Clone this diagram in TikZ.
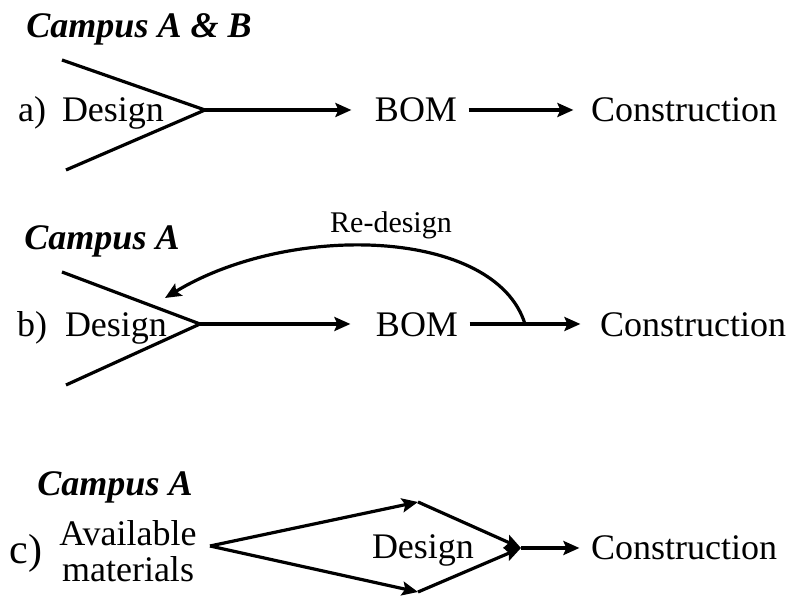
\documentclass[tikz,border=0pt]{standalone}
\usepackage{fontspec}
\setmainfont{Liberation Serif}
\usetikzlibrary{arrows.meta,positioning}

\begin{document}
\begin{tikzpicture}[x=0.5pt,y=-0.5pt,>={Stealth[length=8pt,width=7pt,inset=1.5pt]},line width=1.6pt,inner sep=0pt,anchor=base,font=\fontsize{18}{20}\selectfont]
      \tikzstyle{title}=[font=\fontsize{18}{20}\selectfont\bfseries\itshape]
      \useasboundingbox (0,0) rectangle (788,597);

      % a)
      \node[title]      (tA) at (139,38)  {Campus A \& B};
      \node             (la) at (32,122)  {a)};
      \node             (dA) at (113,122) {Design};
      \coordinate       (vA) at (205,110);
      \coordinate       (uA) at (62,60);
      \coordinate       (wA) at (66,170);
      \node             (bA) at (416,122) {BOM};
      \node             (cA) at (684,122) {Construction};
      \draw (uA) -- (vA) -- (wA);
      \draw[->] (vA) -- ([xshift=-11pt]bA.west |- vA);
      \draw[->] ([xshift=5pt]bA.east |- vA) -- ([xshift=-8pt]cA.west |- vA);

      % b)
      \node[title]      (tB) at (102,250) {Campus A};
      \node             (lb) at (32,337)  {b)};
      \node             (dB) at (116,337) {Design};
      \coordinate       (vB) at (200,324);
      \coordinate       (uB) at (62,272);
      \coordinate       (wB) at (66,385);
      \node             (bB) at (417,337) {BOM};
      \node             (cB) at (693,337) {Construction};
      \coordinate       (sB) at (525,324);
      \coordinate       (eB) at (165,298);
      \node[font=\fontsize{15}{17}\selectfont] (rB) at (391,233) {Re-design};
      \draw (uB) -- (vB) -- (wB);
      \draw[->] (vB) -- ([xshift=-12pt]bB.west |- vB);
      \draw[->] ([xshift=5pt]bB.east |- vB) -- ([xshift=-9pt]cB.west |- vB);
      \draw[->] (sB) .. controls (495,228) and (290,222) .. (eB);

      % c)
      \node[title]      (tC) at (115,496) {Campus A};
      \node[font=\fontsize{21}{23}\selectfont] (lc) at (26,564) {c)};
      \node             (aC) at (128,546) {Available};
      \node             (mC) at (128,582) {materials};
      \node             (dC) at (423,559) {Design};
      \coordinate       (lv) at (210,546);
      \coordinate       (tv) at (418,502);
      \coordinate       (bv) at (418,592);
      \coordinate       (rv) at (521,548);
      \node             (cC) at (684,560) {Construction};
      \draw[->] (lv) -- (tv);
      \draw[->] (tv) -- (rv);
      \draw[->] (lv) -- (bv);
      \draw[->] (bv) -- (rv);
      \draw[->] (rv) -- ([xshift=-5pt]cC.west |- rv);
\end{tikzpicture}
\end{document}
